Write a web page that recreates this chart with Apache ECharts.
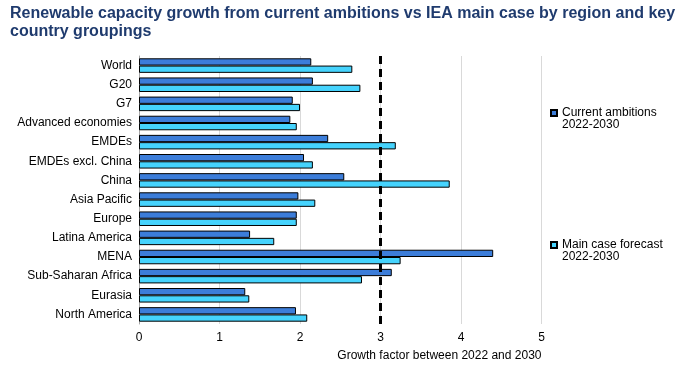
<!DOCTYPE html>
<html>
<head>
<meta charset="utf-8">
<script src="https://cdn.jsdelivr.net/npm/echarts@6/dist/echarts.min.js"></script>
<style>html,body{margin:0;padding:0;background:#fff;}#c{width:683px;height:367px;}</style>
</head>
<body>
<div id="c"></div>
<script>
const categories = ["World","G20","G7","Advanced economies","EMDEs","EMDEs excl. China","China","Asia Pacific","Europe","Latina America","MENA","Sub-Saharan Africa","Eurasia","North America"];
const currentAmbitions = [2.14,2.16,1.91,1.88,2.35,2.05,2.55,1.98,1.96,1.38,4.40,3.14,1.32,1.95];
const mainCase = [2.65,2.75,2.00,1.96,3.19,2.16,3.86,2.19,1.96,1.68,3.25,2.77,1.37,2.09];
const xTicks = [0,1,2,3,4,5];
const threshold = 3;

const chart = echarts.init(document.getElementById('c'), null, {renderer:'canvas'});
const font = 'Liberation Sans, Arial, sans-serif';
chart.setOption({
  animation:false,
  backgroundColor:'#fff',
  title:{
    text:'Renewable capacity growth from current ambitions vs IEA main case by region and key\ncountry groupings',
    left:5, top:0,
    textStyle:{fontFamily:font,fontSize:16,fontWeight:'bold',color:'#1F3B6E',lineHeight:18}
  },
  legend:{
    orient:'vertical', left:545, top:90, itemGap:96,
    itemWidth:6, itemHeight:6,
    icon:'rect',
    textStyle:{fontFamily:font,fontSize:12,color:'#000',lineHeight:12},
    formatter: n => '\n' + n.replace(' 2022-2030','\n2022-2030'),
    data:['Current ambitions 2022-2030','Main case forecast 2022-2030']
  },
  grid:{left:139,right:141.5,top:56,bottom:43,containLabel:false},
  xAxis:{
    type:'value', min:xTicks[0], max:xTicks[xTicks.length-1], interval:1,
    axisLine:{show:false}, axisTick:{show:false},
    splitLine:{show:true,lineStyle:{color:'#d9d9d9',width:1}},
    axisLabel:{fontFamily:font,fontSize:12,color:'#000',margin:8},
    name:'Growth factor between 2022 and 2030',
    nameLocation:'end', nameGap:0,
    nameTextStyle:{fontFamily:font,fontSize:12,color:'#000',align:'right',verticalAlign:'top',padding:[26,0,0,0]}
  },
  yAxis:{
    type:'category', data:categories, inverse:true,
    axisLine:{show:true,lineStyle:{color:'#a6a6a6',width:1}},
    axisTick:{show:false},
    axisLabel:{fontFamily:font,fontSize:12,color:'#000',margin:7}
  },
  series:[
    {
      name:'Current ambitions 2022-2030', type:'bar', data:currentAmbitions,
      barGap:'0%', barCategoryGap:'24%',
      itemStyle:{color:'#3C7DD9',borderColor:'#000',borderWidth:1},
      markLine:{
        silent:true, symbol:'none', label:{show:false},
        lineStyle:{color:'#000',width:3,type:[8,5]},
        data:[{xAxis:threshold}]
      }
    },
    {
      name:'Main case forecast 2022-2030', type:'bar', data:mainCase,
      barGap:'0%', barCategoryGap:'24%',
      itemStyle:{color:'#45D3FD',borderColor:'#000',borderWidth:1}
    }
  ]
});
</script>
</body>
</html>
